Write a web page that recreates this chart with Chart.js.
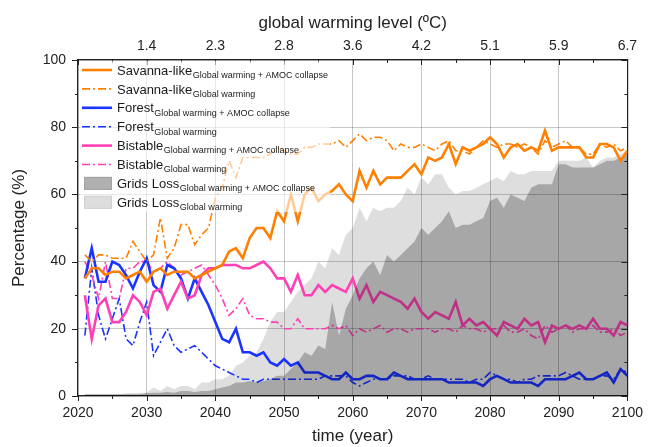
<!DOCTYPE html>
<html>
<head>
<meta charset="utf-8">
<script src="https://cdn.jsdelivr.net/npm/chart.js@4"></script>
<style>
  html, body { margin: 0; padding: 0; background: #fff; }
</style>
</head>
<body>
<canvas id="chart" width="652" height="447"></canvas>
<script>
'use strict';

// one point per year, 2021 .. 2100
const years = Array.from({length: 80}, (_, i) => 2021 + i);

// top axis labels at 2020, 2030, ... 2100
const warmLevels = ['', '1.4', '2.3', '2.8', '3.6', '4.2', '5.1', '5.9', '6.7'];

const savAmoc = [
  35, 38, 38, 36, 37, 37, 35, 36, 37, 34,
  37, 38, 36, 37, 37, 37, 35, 36, 37, 38,
  39, 43, 44, 41, 47, 50, 50, 47, 55, 52,
  60, 52, 60, 62, 58, 60, 61, 63, 60, 58,
  67, 62, 67, 63, 65, 65, 65, 67, 69, 66,
  71, 70, 71, 75, 69, 74, 73, 74, 75, 77,
  75, 71, 74, 75, 73, 74, 73, 79, 73, 74,
  74, 74, 74, 71, 71, 75, 75, 74, 70, 73
];
const savGw = [
  42, 40, 42, 42, 41, 41, 41, 46, 43, 40,
  42, 53, 41, 44, 51, 51, 45, 48, 50, 59,
  62, 70, 65, 71, 71, 71, 71, 72, 74, 73,
  72, 72, 74, 74, 75, 75, 75, 76, 74, 76,
  78, 76, 77, 77, 76, 73, 75, 74, 74, 75,
  74, 73, 75, 76, 73, 73, 72, 74, 76, 75,
  74, 75, 75, 74, 75, 74, 72, 76, 74, 75,
  76, 74, 74, 72, 72, 75, 74, 75, 73, 74
];
const forestAmoc = [
  35, 44, 34, 34, 40, 39, 36, 32, 37, 41,
  33, 31, 39, 38, 35, 29, 35, 31, 27, 22,
  17, 16, 20, 13, 13, 12, 13, 10, 9, 11,
  9, 10, 7, 7, 7, 6, 5, 5, 7, 5,
  5, 6, 6, 5, 5, 7, 6, 5, 5, 5,
  5, 5, 5, 4, 4, 4, 4, 4, 3, 5,
  6, 5, 4, 4, 4, 4, 3, 5, 5, 5,
  5, 6, 7, 5, 5, 6, 7, 4, 8, 6
];
const forestGw = [
  18, 38, 24, 17, 23, 29, 17, 15, 22, 28,
  12, 16, 20, 15, 13, 14, 15, 13, 11, 9,
  8, 7, 6, 5, 5, 4, 5, 5, 5, 5,
  5, 5, 5, 5, 5, 6, 6, 6, 6, 4,
  3, 4, 5, 5, 5, 6, 6, 6, 5, 5,
  6, 5, 5, 5, 5, 5, 4, 5, 5, 7,
  6, 5, 5, 4, 5, 5, 6, 6, 6, 6,
  7, 6, 5, 5, 5, 6, 6, 5, 8, 7
];
const bistAmoc = [
  30, 17, 27, 29, 22, 22, 25, 30, 28, 24,
  31, 32, 26, 30, 34, 29, 30, 36, 38, 38,
  39, 39, 39, 38, 38, 39, 40, 38, 35, 35,
  31, 36, 30, 30, 33, 31, 33, 32, 31, 35,
  29, 33, 28, 31, 30, 29, 28, 26, 29, 25,
  23, 25, 24, 23, 28, 21, 23, 21, 22, 20,
  18, 22, 21, 20, 23, 21, 22, 16, 21, 20,
  21, 20, 21, 20, 23, 20, 20, 18, 22, 21
];
const bistGw = [
  40, 36, 29, 40, 29, 29, 38, 38, 40, 40,
  37, 38, 40, 38, 36, 37, 38, 39, 36, 33,
  29, 24, 26, 29, 24, 23, 23, 22, 22, 20,
  20, 23, 20, 20, 20, 20, 21, 20, 21, 18,
  20, 19, 20, 21, 19, 20, 20, 19, 20, 20,
  20, 19, 20, 20, 19, 21, 20, 20, 19, 20,
  20, 21, 19, 19, 20, 18, 17, 21, 19, 20,
  21, 19, 20, 20, 21, 19, 19, 20, 18, 19
];
const gridAmoc = [
  0.5, 0.5, 0.5, 0.5, 0.5, 0.5, 0.5, 0.5, 0.5, 0.8,
  1, 1, 1.2, 1, 1.5, 1.5, 1.2, 1.5, 1.5, 2,
  2.5, 3, 4, 4, 4.5, 4, 4.5, 5, 6, 6,
  8, 10, 13, 12, 15, 14, 28, 18, 26, 30,
  35, 38, 40, 36, 42, 40, 42, 44, 46, 50,
  48, 50, 52, 55, 50, 51, 51, 52, 53, 58,
  59, 56, 60, 59, 58, 62, 63, 63, 63, 69,
  69, 68, 68, 68, 68, 69, 70, 70, 71, 72
];
const gridGw = [
  0.5, 0.5, 0.5, 0.5, 0.5, 0.5, 0.8, 0.8, 1, 1,
  2.5, 1.5, 3, 2, 3, 3, 2, 4, 4, 5,
  5, 6, 9, 10, 12, 13, 17, 22, 25, 25,
  28, 31, 33, 35, 40, 38, 44, 42, 48, 50,
  56, 52, 56, 55, 56, 56, 58, 62, 60, 65,
  63, 66, 66, 62, 60, 61, 61, 62, 63, 64,
  65, 64, 67, 66, 66, 67, 67, 67, 67, 70,
  70, 70, 70, 71, 68, 70, 71, 71, 72, 73
];

const orange = '#ff8000';
const blue = '#1a33ff';
const pink = '#ff40b4';
const font = '"Liberation Sans", Arial, sans-serif';
const dashDot = [8, 3, 2, 3];

function lineSet(label, vals, color, dashed, order) {
  return {
    label: label,
    data: vals.map((v, i) => ({x: years[i], y: v})),
    borderColor: color,
    borderWidth: dashed ? 1.6 : 2.6,
    borderDash: dashed ? dashDot : [],
    pointRadius: 0,
    fill: false,
    order: order
  };
}

function areaSet(label, vals, color, order) {
  return {
    label: label,
    data: vals.map((v, i) => ({x: years[i], y: v})),
    borderWidth: 0,
    borderColor: 'transparent',
    backgroundColor: color,
    pointRadius: 0,
    fill: 'origin',
    order: order
  };
}

// legend is drawn by hand because of the subscripts
const legendRows = [
  {name: 'Savanna-like', sub: 'Global warming + AMOC collapse', color: orange, dash: []},
  {name: 'Savanna-like', sub: 'Global warming', color: orange, dash: dashDot},
  {name: 'Forest', sub: 'Global warming + AMOC collapse', color: blue, dash: []},
  {name: 'Forest', sub: 'Global warming', color: blue, dash: dashDot},
  {name: 'Bistable', sub: 'Global warming + AMOC collapse', color: pink, dash: []},
  {name: 'Bistable', sub: 'Global warming', color: pink, dash: dashDot},
  {name: 'Grids Loss', sub: 'Global warming + AMOC collapse', box: '#b0b0b0', edge: '#a2a2a2'},
  {name: 'Grids Loss', sub: 'Global warming', box: '#dddddd', edge: '#d0d0d0'}
];

const axisMarks = {
  id: 'axisMarks',
  afterDraw(chart) {
    const {ctx, chartArea: a} = chart;
    const x = chart.scales.x, y = chart.scales.y;
    ctx.save();
    ctx.strokeStyle = '#222';
    ctx.lineWidth = 1;
    ctx.beginPath();
    for (let yr = 2020; yr <= 2100; yr += 5) {
      const px = Math.round(x.getPixelForValue(yr)) + 0.5;
      const len = yr % 10 === 0 ? 5 : 3;
      ctx.moveTo(px, a.bottom); ctx.lineTo(px, a.bottom + len);
      ctx.moveTo(px, a.top); ctx.lineTo(px, a.top + len);
    }
    for (let v = 0; v <= 100; v += 10) {
      const py = Math.round(y.getPixelForValue(v)) + 0.5;
      const len = v % 20 === 0 ? 6 : 3;
      ctx.moveTo(a.left - len, py); ctx.lineTo(a.left, py);
      ctx.moveTo(a.right, py); ctx.lineTo(a.right - len, py);
    }
    ctx.stroke();

    // legend
    ctx.fillStyle = 'rgba(255,255,255,0.6)';
    ctx.fillRect(a.left + 2, a.top + 1, 250, 151);
    legendRows.forEach((r, i) => {
      const cy = a.top + 10 + i * 18.9;
      if (r.box) {
        ctx.fillStyle = r.box;
        ctx.fillRect(84, cy - 6.5, 28, 13);
        ctx.strokeStyle = r.edge;
        ctx.lineWidth = 1;
        ctx.strokeRect(84.5, cy - 6, 27, 12);
      } else {
        ctx.strokeStyle = r.color;
        ctx.lineWidth = r.dash.length ? 1.6 : 2.6;
        ctx.setLineDash(r.dash);
        ctx.beginPath();
        ctx.moveTo(82, cy); ctx.lineTo(112, cy);
        ctx.stroke();
        ctx.setLineDash([]);
      }
      ctx.fillStyle = '#1a1a1a';
      ctx.textBaseline = 'alphabetic';
      ctx.font = '13px ' + font;
      ctx.fillText(r.name, 117, cy + 4.6);
      const w = ctx.measureText(r.name).width;
      ctx.font = '9px ' + font;
      ctx.fillText(r.sub, 117 + w + 0.5, cy + 7.8);
    });
    ctx.restore();
  }
};

const ctx = document.getElementById('chart').getContext('2d');
new Chart(ctx, {
  type: 'line',
  data: {
    datasets: [
      lineSet('Savanna-like (Global warming + AMOC collapse)', savAmoc, orange, false, 0),
      lineSet('Savanna-like (Global warming)', savGw, orange, true, 1),
      lineSet('Forest (Global warming + AMOC collapse)', forestAmoc, blue, false, 4),
      lineSet('Forest (Global warming)', forestGw, blue, true, 6),
      lineSet('Bistable (Global warming + AMOC collapse)', bistAmoc, pink, false, 3),
      lineSet('Bistable (Global warming)', bistGw, pink, true, 5),
      areaSet('Grids Loss (Global warming + AMOC collapse)', gridAmoc, 'rgba(0,0,0,0.25)', 2),
      areaSet('Grids Loss (Global warming)', gridGw, 'rgba(0,0,0,0.13)', 7)
    ]
  },
  options: {
    responsive: false,
    animation: false,
    layout: {padding: 0},
    plugins: {legend: {display: false}, tooltip: {enabled: false}},
    scales: {
      x: {
        type: 'linear', position: 'bottom', min: 2020, max: 2100, z: 1,
        afterFit: s => { s.height = 51; },
        ticks: {stepSize: 10, padding: 9, color: '#222', font: {size: 14, family: font}, callback: v => String(v)},
        grid: {color: 'rgba(0,0,0,0.22)', drawTicks: false},
        border: {display: true, color: '#222', width: 1.2},
        title: {display: true, text: 'time (year)', color: '#222', font: {size: 17, family: font}, padding: {top: 0, bottom: 0}}
      },
      x2: {
        type: 'linear', axis: 'x', position: 'top', min: 2020, max: 2100, z: 1,
        afterFit: s => { s.height = 60; },
        ticks: {stepSize: 10, padding: 5, color: '#222', font: {size: 14, family: font}, callback: (v, i) => warmLevels[i]},
        grid: {drawOnChartArea: false, drawTicks: false},
        border: {display: true, color: '#222', width: 1.2},
        title: {display: true, text: 'global warming level (ºC)', color: '#222', font: {size: 17, family: font}, padding: {top: 13, bottom: 0}}
      },
      y: {
        type: 'linear', position: 'left', min: 0, max: 100, z: 1,
        afterFit: s => { s.width = 78; },
        ticks: {stepSize: 20, padding: 12, color: '#222', font: {size: 14, family: font}},
        grid: {color: 'rgba(0,0,0,0.22)', drawTicks: false},
        border: {display: true, color: '#222', width: 1.2},
        title: {display: true, text: 'Percentage (%)', color: '#222', font: {size: 17, family: font}, padding: {top: 9, bottom: 0}}
      },
      yR: {
        type: 'linear', axis: 'y', position: 'right', min: 0, max: 100, z: 1,
        afterFit: s => { s.width = 18; },
        ticks: {display: false},
        grid: {drawOnChartArea: false, drawTicks: false},
        border: {display: true, color: '#222', width: 1.2}
      }
    }
  },
  plugins: [axisMarks]
});
</script>
</body>
</html>
